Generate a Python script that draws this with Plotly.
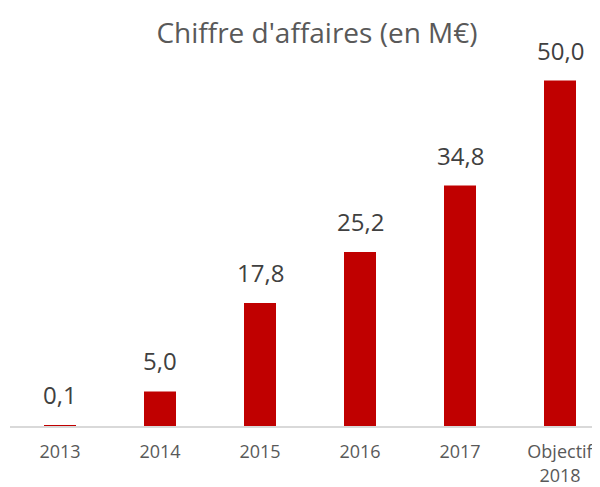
import plotly.graph_objects as go

categories = ["2013", "2014", "2015", "2016", "2017", "Objectif<br>2018"]
values = [0.1, 5.0, 17.8, 25.2, 34.8, 50.0]
value_labels = [f"{v:.1f}".replace(".", ",") for v in values]

FONT = "Open Sans"
fig = go.Figure()
fig.add_trace(go.Bar(
    x=categories, y=values, width=0.32,
    marker=dict(color="#C00000", line=dict(width=0)),
    hoverinfo="skip",
))

for i, (v, t) in enumerate(zip(values, value_labels)):
    fig.add_annotation(x=i, y=v, xref="x", yref="y", text=t, showarrow=False,
                       yanchor="bottom", yshift=12,
                       font=dict(family=FONT, size=24, color="#404040"))

fig.update_layout(
    width=600, height=487,
    margin=dict(l=2, r=8, t=38, b=69, autoexpand=False),
    paper_bgcolor="white", plot_bgcolor="white",
    showlegend=False,
    title=dict(text="Chiffre d'affaires (en M€)", x=309/600, xanchor="center",
               xref="container", y=1 - 25/487, yanchor="middle", yref="container",
               font=dict(family=FONT, size=28, color="#595959"), automargin=False),
    xaxis=dict(type="category", range=[-0.5, 5.4], showgrid=False,
               showline=True, linecolor="#D9D9D9", linewidth=1.5,
               ticks="", ticklabelstandoff=9, automargin=False,
               tickfont=dict(family=FONT, size=18, color="#595959")),
    yaxis=dict(range=[0, 55], visible=False, showgrid=False, zeroline=False,
               automargin=False),
)

fig.write_html("out.html")
